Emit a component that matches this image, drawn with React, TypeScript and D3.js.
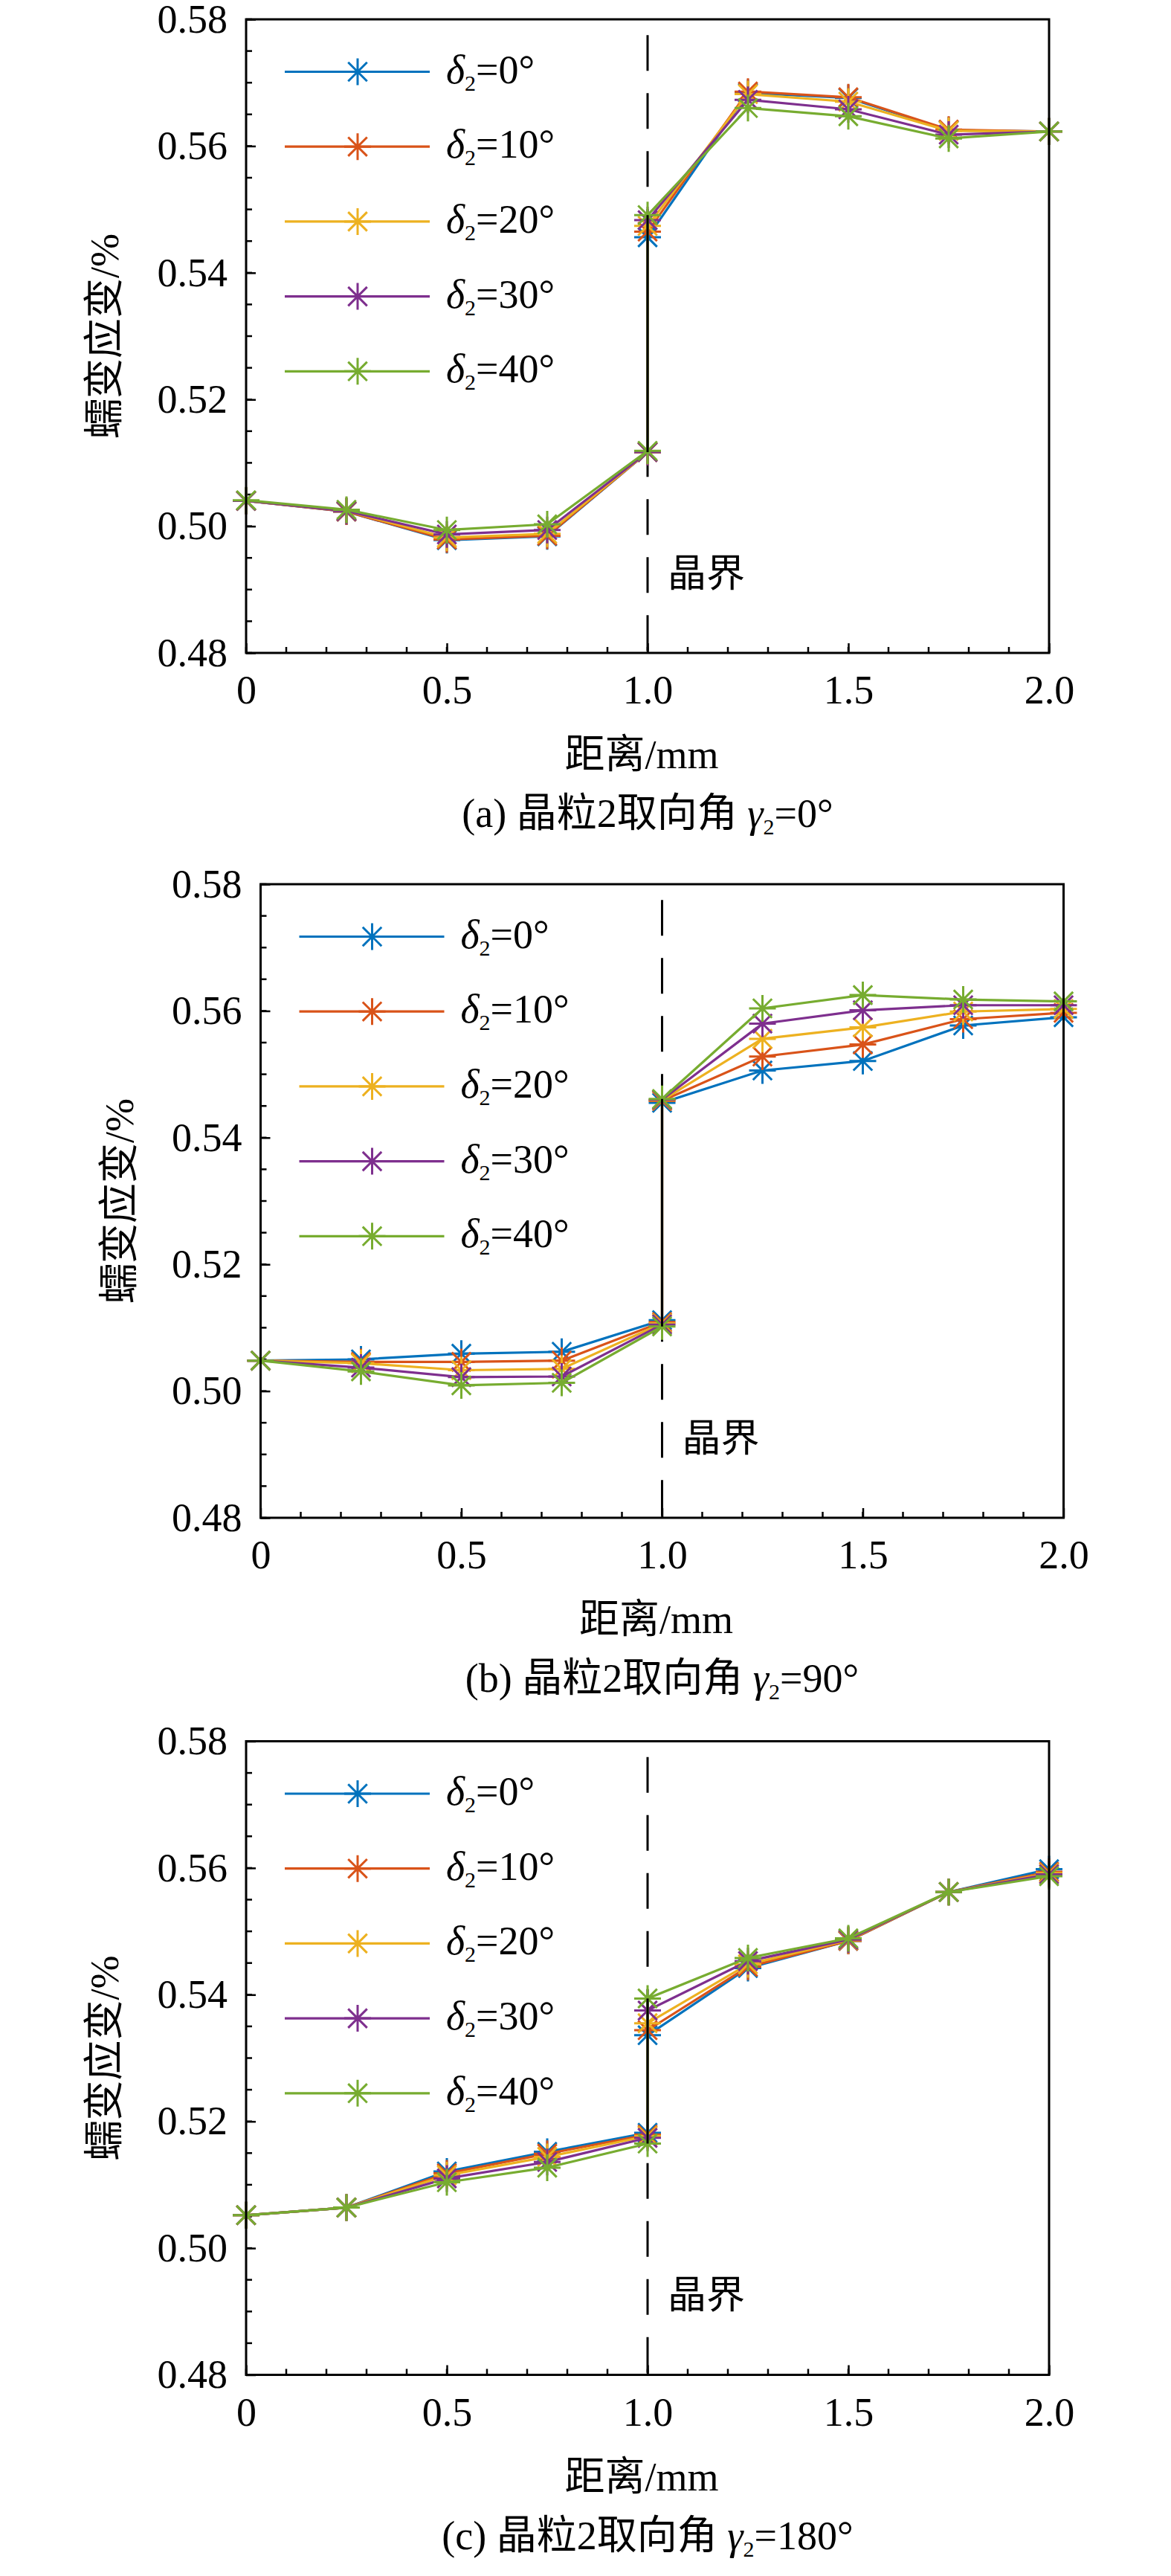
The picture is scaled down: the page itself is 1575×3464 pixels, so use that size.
import { useEffect, useRef } from 'react';
import * as d3 from 'd3';

// distances along the path (two points at the grain boundary x=1.0)
const distance = [0, 0.25, 0.5, 0.75, 1.0, 1.0, 1.25, 1.5, 1.75, 2.0];
const deltaLabels = ['0°', '10°', '20°', '30°', '40°'];
const colors = ['#0072BD', '#D95319', '#EDB120', '#7E2F8E', '#77AC30'];
const xTicks = [0, 0.5, 1.0, 1.5, 2.0];
const xTickLabels = ['0', '0.5', '1.0', '1.5', '2.0'];
const yTicks = [0.48, 0.5, 0.52, 0.54, 0.56, 0.58];
const yTickLabels = ['0.48', '0.50', '0.52', '0.54', '0.56', '0.58'];
const panelTags = ['(a)', '(b)', '(c)'];
const gammaLabels = ['0°', '90°', '180°'];

// (a) gamma2 = 0
const strainA0 = [0.5040, 0.5023, 0.4978, 0.4984, 0.5117, 0.5456, 0.5684, 0.5676, 0.5625, 0.5623];
const strainA10 = [0.5040, 0.5023, 0.4979, 0.4985, 0.5117, 0.5465, 0.5686, 0.5677, 0.5626, 0.5623];
const strainA20 = [0.5040, 0.5024, 0.4982, 0.4988, 0.5117, 0.5474, 0.5682, 0.5670, 0.5624, 0.5623];
const strainA30 = [0.5040, 0.5024, 0.4987, 0.4994, 0.5117, 0.5483, 0.5673, 0.5658, 0.5618, 0.5623];
const strainA40 = [0.5041, 0.5026, 0.4994, 0.5003, 0.5119, 0.5491, 0.5660, 0.5647, 0.5612, 0.5623];

// (b) gamma2 = 90
const strainB0 = [0.5048, 0.5050, 0.5059, 0.5062, 0.5112, 0.5455, 0.5506, 0.5521, 0.5577, 0.5590];
const strainB10 = [0.5048, 0.5046, 0.5046, 0.5048, 0.5109, 0.5458, 0.5528, 0.5547, 0.5587, 0.5597];
const strainB20 = [0.5048, 0.5044, 0.5033, 0.5035, 0.5107, 0.5459, 0.5556, 0.5574, 0.5599, 0.5603];
const strainB30 = [0.5048, 0.5037, 0.5022, 0.5023, 0.5105, 0.5460, 0.5580, 0.5601, 0.5609, 0.5609];
const strainB40 = [0.5048, 0.5031, 0.5009, 0.5013, 0.5102, 0.5461, 0.5604, 0.5625, 0.5618, 0.5615];

// (c) gamma2 = 180
const strainC0 = [0.5052, 0.5064, 0.5121, 0.5152, 0.5182, 0.5336, 0.5442, 0.5485, 0.5562, 0.5598];
const strainC10 = [0.5052, 0.5064, 0.5118, 0.5149, 0.5179, 0.5344, 0.5444, 0.5485, 0.5562, 0.5594];
const strainC20 = [0.5052, 0.5064, 0.5115, 0.5144, 0.5177, 0.5355, 0.5448, 0.5486, 0.5562, 0.5592];
const strainC30 = [0.5052, 0.5064, 0.5110, 0.5136, 0.5174, 0.5375, 0.5453, 0.5487, 0.5562, 0.5590];
const strainC40 = [0.5052, 0.5064, 0.5104, 0.5127, 0.5165, 0.5394, 0.5458, 0.5489, 0.5562, 0.5587];

const panelSeries = [
  [strainA0, strainA10, strainA20, strainA30, strainA40],
  [strainB0, strainB10, strainB20, strainB30, strainB40],
  [strainC0, strainC10, strainC20, strainC30, strainC40],
];

const W = 1575;
const H = 3464;
const PW = 1080;
const PH = 852;
const FONT = "'Liberation Serif', 'Times New Roman', 'Noto Sans CJK SC', serif";
const panelPos = [
  { left: 331, top: 26 },
  { left: 350.5, top: 1189 },
  { left: 331, top: 2341.5 },
];

function asterisk(r: number) {
  const d = r / Math.SQRT2;
  return `M${-r},0L${r},0M0,${-r}L0,${r}M${-d},${-d}L${d},${d}M${-d},${d}L${d},${-d}`;
}

export default function App() {
  const svgRef = useRef<SVGSVGElement>(null);

  useEffect(() => {
    if (!svgRef.current) return;
    const svg = d3.select(svgRef.current);
    svg.selectAll('*').remove();

    panelSeries.forEach((seriesList, p) => {
      const { left, top } = panelPos[p];
      const g = svg.append('g').attr('transform', `translate(${left},${top})`);

      const x = d3.scaleLinear().domain([0, 2]).range([0, PW]);
      const y = d3.scaleLinear().domain([0.48, 0.58]).range([PH, 0]);

      // minor ticks
      g.selectAll('.xminor')
        .data(d3.ticks(0, 2, 20))
        .join('line')
        .attr('x1', d => x(d)).attr('x2', d => x(d))
        .attr('y1', PH).attr('y2', PH - 8)
        .attr('stroke', '#000').attr('stroke-width', 2.5);
      g.selectAll('.yminor')
        .data(d3.ticks(0.48, 0.58, 20))
        .join('line')
        .attr('x1', 0).attr('x2', 8)
        .attr('y1', d => y(d)).attr('y2', d => y(d))
        .attr('stroke', '#000').attr('stroke-width', 2.5);

      // major axes
      const xAxis = g.append('g')
        .attr('transform', `translate(0,${PH})`)
        .call(d3.axisBottom(x).tickValues(xTicks).tickSize(-13).tickSizeOuter(0).tickPadding(30)
          .tickFormat((_, i) => xTickLabels[i]));
      const yAxis = g.append('g')
        .call(d3.axisLeft(y).tickValues(yTicks).tickSize(-13).tickSizeOuter(0).tickPadding(25)
          .tickFormat((_, i) => yTickLabels[i]));
      [xAxis, yAxis].forEach(a => {
        a.select('.domain').remove();
        a.attr('font-family', FONT).attr('font-size', 54);
        a.selectAll('line').attr('stroke-width', 2.5);
        a.selectAll('text').attr('fill', '#000');
      });

      // grain boundary dashed line
      g.append('line')
        .attr('x1', x(1)).attr('x2', x(1))
        .attr('y1', y(0.5775)).attr('y2', PH)
        .attr('stroke', '#000').attr('stroke-width', 3)
        .attr('stroke-dasharray', '48 30');

      const line = d3.line<number>()
        .x((d, i) => x(distance[i]))
        .y(d => y(d));

      seriesList.forEach((vals, s) => {
        g.append('path')
          .datum(vals)
          .attr('fill', 'none')
          .attr('stroke', colors[s])
          .attr('stroke-width', 3.2)
          .attr('d', line);
        g.selectAll(`.m${s}`)
          .data(vals)
          .join('path')
          .attr('transform', (d, i) => `translate(${x(distance[i])},${y(d)})`)
          .attr('d', asterisk(18))
          .attr('stroke', colors[s])
          .attr('stroke-width', 3)
          .attr('fill', 'none');
      });

      // black jump segment at the boundary
      const lowVals = seriesList.map(v => v[4]);
      const highVals = seriesList.map(v => v[5]);
      g.append('line')
        .attr('x1', x(1)).attr('x2', x(1))
        .attr('y1', y(d3.min(lowVals)!)).attr('y2', y(d3.max(highVals)!))
        .attr('stroke', '#000').attr('stroke-width', 3);

      g.append('text')
        .attr('x', x(1.05)).attr('y', y(0.4905))
        .attr('font-family', FONT).attr('font-size', 52)
        .text('晶界');

      // legend
      deltaLabels.forEach((lab, s) => {
        const ly = 70.5 + s * 100.7;
        g.append('line')
          .attr('x1', 52).attr('x2', 247)
          .attr('y1', ly).attr('y2', ly)
          .attr('stroke', colors[s]).attr('stroke-width', 3.2);
        g.append('path')
          .attr('transform', `translate(150,${ly})`)
          .attr('d', asterisk(18))
          .attr('stroke', colors[s]).attr('stroke-width', 3).attr('fill', 'none');
        const t = g.append('text')
          .attr('x', 269).attr('y', ly + 15)
          .attr('font-family', FONT).attr('font-size', 54);
        t.append('tspan').attr('font-style', 'italic').text('δ');
        t.append('tspan').attr('font-size', 30).attr('dy', 10).text('2');
        t.append('tspan').attr('dy', -10).text('=' + lab);
      });

      // box
      g.append('rect')
        .attr('x', 0).attr('y', 0).attr('width', PW).attr('height', PH)
        .attr('fill', 'none').attr('stroke', '#000').attr('stroke-width', 3);

      // axis titles
      g.append('text')
        .attr('x', PW / 2 - 8).attr('y', PH + 155)
        .attr('text-anchor', 'middle')
        .attr('font-family', FONT).attr('font-size', 54)
        .text('距离/mm');
      g.append('text')
        .attr('transform', `translate(-190,${PH / 2}) rotate(-90)`)
        .attr('text-anchor', 'middle')
        .attr('dominant-baseline', 'central')
        .attr('font-family', FONT).attr('font-size', 54)
        .text('蠕变应变/%');

      // caption
      const c = g.append('text')
        .attr('x', PW / 2).attr('y', PH + 234)
        .attr('text-anchor', 'middle')
        .attr('font-family', FONT).attr('font-size', 54);
      c.append('tspan').text(`${panelTags[p]} 晶粒2取向角 `);
      c.append('tspan').attr('font-style', 'italic').text('γ');
      c.append('tspan').attr('font-size', 30).attr('dy', 10).text('2');
      c.append('tspan').attr('dy', -10).text('=' + gammaLabels[p]);
    });
  }, []);

  return (
    <svg
      ref={svgRef}
      width={W}
      height={H}
      viewBox={`0 0 ${W} ${H}`}
      style={{ position: 'absolute', left: 0, top: 0, background: '#fff' }}
    />
  );
}
